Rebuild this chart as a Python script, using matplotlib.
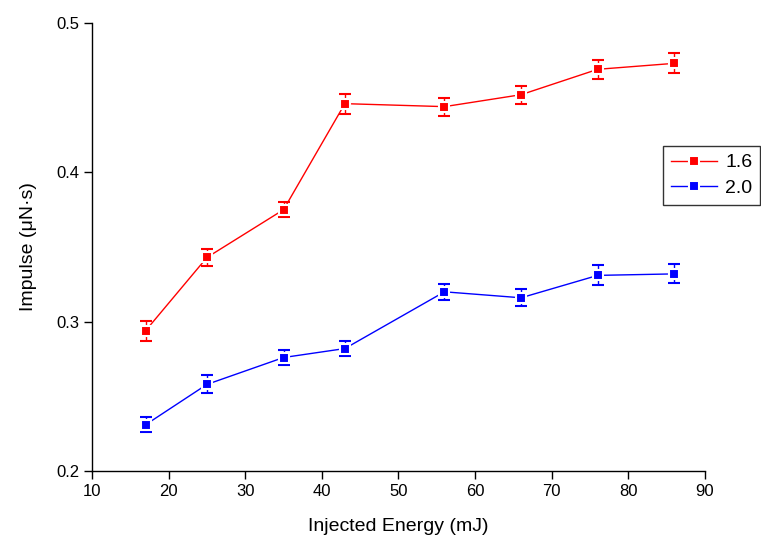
import matplotlib
matplotlib.use("Agg")
import matplotlib.pyplot as plt
from matplotlib.lines import Line2D
import numpy as np

# injected energy (mJ)
energy = [17, 25, 35, 43, 56, 66, 76, 86]

# impulse (uN.s) and error for each series
imp_16 = [0.294, 0.343, 0.375, 0.446, 0.444, 0.452, 0.469, 0.473]
err_16 = [0.0067, 0.006, 0.005, 0.0067, 0.006, 0.006, 0.0063, 0.0067]
imp_20 = [0.231, 0.258, 0.276, 0.282, 0.320, 0.316, 0.331, 0.332]
err_20 = [0.005, 0.006, 0.0047, 0.005, 0.0053, 0.0057, 0.0067, 0.0063]

series_labels = ["1.6", "2.0"]
series_colors = ['#ff0000', '#0000ff']
x_ticks = [10, 20, 30, 40, 50, 60, 70, 80, 90]
y_ticks = [0.2, 0.3, 0.4, 0.5]

plt.rcParams['font.family'] = ['Liberation Sans', 'DejaVu Sans']

fig = plt.figure(figsize=(7.61, 5.48), dpi=100)
ax = fig.add_axes([0.1209, 0.1405, 0.8055, 0.8175])

for y, e, c in [(imp_16, err_16, series_colors[0]),
                (imp_20, err_20, series_colors[1])]:
    ax.errorbar(energy, y, yerr=e, color=c, lw=1.0, elinewidth=1.0,
                capsize=4, capthick=1.0, marker='s', markersize=6.5,
                markerfacecolor=c, markeredgecolor='white', markeredgewidth=1.5)

ax.set_xlim(10, 90)
ax.set_ylim(0.2, 0.5)
ax.set_xticks(x_ticks)
ax.set_xticklabels([str(t) for t in x_ticks])
ax.set_yticks(y_ticks)
ax.set_yticklabels(["%.1f" % t for t in y_ticks])

for s in ['top', 'right']:
    ax.spines[s].set_visible(False)
for s in ['left', 'bottom']:
    ax.spines[s].set_linewidth(1.0)
ax.tick_params(direction='out', length=6, width=1, labelsize=12, pad=3)

ax.set_xlabel("Injected Energy (mJ)", fontsize=14, labelpad=14)
ax.set_ylabel("Impulse (μN·s)", fontsize=14, labelpad=14)

handles = [Line2D([], [], color=c, lw=1.0, marker='s', markersize=6.5,
                  markerfacecolor=c, markeredgecolor='white', markeredgewidth=1.5)
           for c in series_colors]
leg = fig.legend(handles, series_labels, loc='upper left',
                 bbox_to_anchor=(0.871, 0.7336),
                 fontsize=14, frameon=True, fancybox=False,
                 handlelength=2.4, handletextpad=0.4, borderpad=0.4,
                 labelspacing=0.4, borderaxespad=0)
leg.get_frame().set_edgecolor('black')
leg.get_frame().set_linewidth(1.0)

fig.savefig("out.png", dpi=100)
